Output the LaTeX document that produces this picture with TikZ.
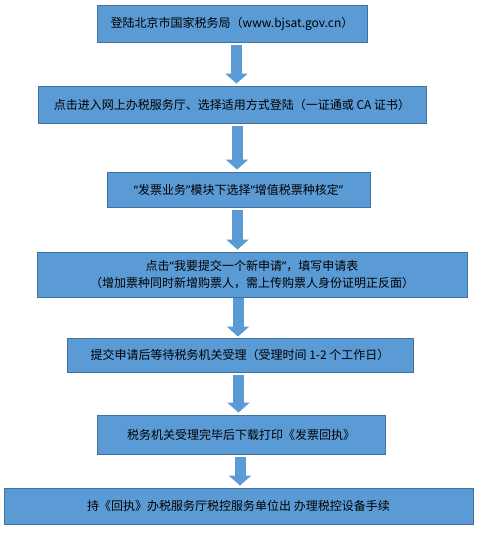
\documentclass[tikz,border=0pt]{standalone}
\usepackage{fontspec}
\setmainfont{Noto Sans CJK SC}
\newfontfamily\qfont{Noto Sans}
\newcommand\qopen{{\qfont “}}
\newcommand\qclose{{\qfont ”}}
\usetikzlibrary{arrows.meta}
\definecolor{stepfill}{HTML}{5B9BD5}
\definecolor{stepline}{HTML}{41719C}
\tikzset{
  box/.style={draw=stepline, fill=stepfill, line width=0.9pt, align=center,
              font=\fontsize{12}{16.5}\selectfont, inner sep=0pt},
  ar/.style={-{Triangle[length=10pt, width=22pt]}, line width=11pt, draw=stepfill,
             shorten <=3pt, shorten >=2pt}
}

\begin{document}
\begin{tikzpicture}[x=1pt,y=-1pt]
  \useasboundingbox (0,0) rectangle (494,533);
  \fill[white] (0,0) rectangle (494,533);

  \node[box, minimum width=270pt, minimum height=37pt] (login) at (232,23.5)
      {登陆北京市国家税务局（www.bjsat.gov.cn）};
  \node[box, minimum width=388pt, minimum height=37pt] (hall) at (232,104.5)
      {点击进入网上办税服务厅、选择适用方式登陆（一证通或 CA 证书）};
  \node[box, minimum width=263pt, minimum height=35pt] (module) at (238.5,189.5)
      {\qopen 发票业务\qclose 模块下选择\qopen 增值税票种核定\qclose};
  \node[box, minimum width=430pt, minimum height=45pt] (apply) at (252,274.5)
      {点击\qopen 我要提交一个新申请\qclose，填写申请表\\（增加票种同时新增购票人，需上传购票人身份证明正反面）};
  \node[box, minimum width=346pt, minimum height=34pt] (wait) at (240,355)
      {提交申请后等待税务机关受理（受理时间 1-2 个工作日）};
  \node[box, minimum width=288pt, minimum height=39pt] (receipt) at (241,434.5)
      {税务机关受理完毕后下载打印《发票回执》};
  \node[box, minimum width=469pt, minimum height=36pt] (device) at (238.5,506)
      {持《回执》办税服务厅税控服务单位出 办理税控设备手续};

  % arrow columns
  \coordinate (c1) at (236.5,0);
  \coordinate (c2) at (237,0);
  \coordinate (c3) at (237.5,0);
  \coordinate (c4) at (238,0);
  \coordinate (c5) at (238.5,0);
  \coordinate (c6) at (240,0);

  \draw[ar] (login.south -| c1) -- (hall.north -| c1);
  \draw[ar] (hall.south -| c2) -- (module.north -| c2);
  \draw[ar] (module.south -| c3) -- (apply.north -| c3);
  \draw[ar, shorten <=1pt, shorten >=1pt] (apply.south -| c4) -- (wait.north -| c4);
  \draw[ar] (wait.south -| c5) -- (receipt.north -| c5);
  \draw[ar] (receipt.south -| c6) -- (device.north -| c6);
\end{tikzpicture}
\end{document}
